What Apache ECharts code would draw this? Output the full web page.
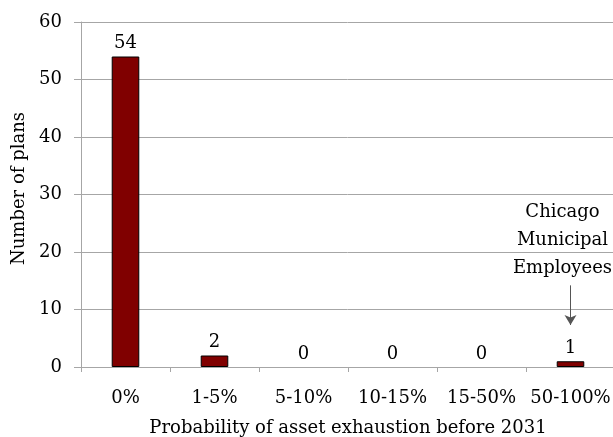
<!DOCTYPE html>
<html><head><meta charset="utf-8">
<script src="https://cdn.jsdelivr.net/npm/echarts@6/dist/echarts.min.js"></script>
<style>html,body{margin:0;padding:0;background:#fff}#c{width:613px;height:437px}</style>
</head><body><div id="c"></div>
<script>
var categories = ['0%', '1-5%', '5-10%', '10-15%', '15-50%', '50-100%'];
var plans = [54, 2, 0, 0, 0, 1];
var yTicks = {min: 0, max: 60, interval: 10};
var annotationCategory = '50-100%';
var annotationText = 'Chicago\nMunicipal\nEmployees';
var arrowFrom = 14.2, arrowTo = 7.3, annotationTextValue = 22;

var F = 'DejaVu Serif';
var FS = 18;
var chart = echarts.init(document.getElementById('c'), null, {renderer: 'canvas'});
chart.setOption({
  animation: false,
  grid: {left: 81, right: -2, top: 22, bottom: 70, outerBoundsMode: 'none', containLabel: false},
  xAxis: {
    type: 'category', data: categories,
    axisLine: {lineStyle: {color: '#a6a6a6', width: 1}},
    axisTick: {show: true, length: 5, lineStyle: {color: '#a6a6a6'}},
    axisLabel: {color: '#000', fontFamily: F, fontSize: FS, margin: 22, interval: 0},
    name: 'Probability of asset exhaustion before 2031',
    nameLocation: 'middle', nameGap: 52,
    nameTextStyle: {color: '#000', fontFamily: F, fontSize: FS}
  },
  yAxis: {
    type: 'value', min: yTicks.min, max: yTicks.max, interval: yTicks.interval,
    axisLine: {show: true, lineStyle: {color: '#a6a6a6', width: 1}},
    axisTick: {show: true, length: 7, lineStyle: {color: '#a6a6a6'}},
    splitLine: {lineStyle: {color: '#a6a6a6', width: 1}},
    axisLabel: {color: '#000', fontFamily: F, fontSize: FS, margin: 19},
    name: 'Number of plans', nameLocation: 'middle', nameGap: 52, nameRotate: 90,
    nameTextStyle: {color: '#000', fontFamily: F, fontSize: FS, padding: [0, 0, 0, 12]}
  },
  series: [{
    type: 'bar',
    data: plans.map(function (v) { return v === 0 ? {value: v, itemStyle: {borderWidth: 0}} : v; }),
    barWidth: '31%',
    itemStyle: {color: '#800000', borderColor: '#000', borderWidth: 1},
    label: {show: true, position: 'top', distance: 4, color: '#000', fontFamily: F, fontSize: FS},
    markLine: {
      silent: true, symbol: ['none', 'arrow'], symbolSize: [9, 10],
      lineStyle: {color: '#555', width: 1, type: 'solid'},
      label: {show: false},
      data: [[{coord: [annotationCategory, arrowFrom]}, {coord: [annotationCategory, arrowTo], itemStyle: {color: '#000'}}]]
    },
    markPoint: {
      silent: true, symbol: 'circle', symbolSize: 0,
      label: {show: true, formatter: annotationText, color: '#000', fontFamily: F, fontSize: FS,
        lineHeight: 28, align: 'center', verticalAlign: 'middle', offset: [-8, 0]},
      data: [{coord: [annotationCategory, annotationTextValue]}]
    }
  }]
});
</script></body></html>
